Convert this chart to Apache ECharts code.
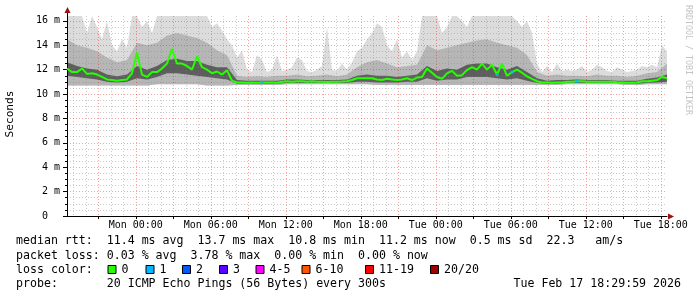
<!DOCTYPE html>
<html><head><meta charset="utf-8">
<script src="https://cdn.jsdelivr.net/npm/echarts@6/dist/echarts.min.js"></script>
<style>html,body{margin:0;padding:0;background:#fff}#c{width:697px;height:297px}</style>
</head><body><div id="c"></div>
<script>
// ---- time base (hours after Sun 18:00) ----
const T0 = 0.5;
const STEP_FINE = 0.4;
const STEP_COARSE = 0.8;

// ---- median rtt (ms), one value per STEP_FINE ----
const medianRtt = [
 12.1, 11.8, 11.8, 12.1, 11.65, 11.7, 11.6, 11.4, 11.2, 11.15,
 11.1, 11.15, 11.2, 11.7, 13.4, 11.6, 11.4, 11.8, 11.8, 12.1,
 12.5, 13.7, 12.5, 12.5, 12.3, 12.0, 13.1, 12.2, 12.0, 11.7,
 11.85, 11.6, 11.95, 11.1, 10.95, 10.95, 10.92, 10.95, 10.92, 10.95,
 10.95, 10.95, 10.93, 11.0, 11.05, 11.0, 11.05, 11.05, 11.0, 11.05,
 11.0, 11.0, 10.98, 11.0, 11.0, 11.02, 11.05, 11.15, 11.3, 11.3,
 11.3, 11.3, 11.2, 11.15, 11.25, 11.2, 11.15, 11.2, 11.3, 11.15,
 11.35, 11.4, 12.1, 11.75, 11.4, 11.25, 11.7, 11.9, 11.5, 11.55,
 11.97, 12.2, 12.0, 12.5, 12.0, 12.4, 11.6, 12.5, 11.5, 11.8,
 12.0, 11.75, 11.45, 11.25, 11.05, 10.95, 10.95, 10.93, 10.95, 10.95,
 11.0, 11.0, 11.05, 11.05, 11.0, 11.0, 11.0, 11.0, 11.0, 11.0,
 10.97, 10.95, 10.93, 10.93, 10.95, 11.05, 11.05, 11.1, 11.15, 11.4,
 11.3
];
// ---- max rtt (top of smoke), one value per STEP_FINE ----
const maxRtt = [
 16.4, 16.4, 16.4, 16.4, 15.0, 16.4, 15.5, 14.5, 16.0, 14.0,
 13.5, 14.5, 13.8, 16.4, 16.4, 15.5, 16.0, 15.0, 16.4, 16.4,
 16.4, 16.4, 16.4, 16.4, 16.4, 16.4, 16.4, 16.4, 16.4, 15.5,
 15.8, 15.2, 14.5, 14.0, 13.0, 13.6, 12.0, 11.8, 13.2, 12.8,
 11.8, 12.0, 13.2, 11.9, 12.0, 12.2, 13.0, 12.8, 11.9, 11.8,
 12.0, 12.3, 15.5, 12.0, 11.9, 12.5, 12.0, 12.6, 13.5, 13.8,
 14.5, 15.0, 15.8, 15.5, 14.0, 13.5, 14.5, 13.0, 13.5, 12.8,
 13.5, 16.4, 16.4, 16.4, 16.4, 15.0, 15.5, 16.4, 16.4, 16.0,
 15.5, 16.4, 16.4, 16.4, 16.4, 16.4, 16.4, 16.4, 16.4, 16.4,
 16.0, 15.5, 16.0, 15.0, 12.5, 11.8, 12.3, 11.8, 12.5, 11.9,
 12.0, 11.9, 12.0, 12.3, 11.8, 12.0, 12.4, 12.2, 11.9, 11.8,
 12.2, 12.0, 11.8, 11.9, 12.0, 12.3, 12.2, 12.4, 12.2, 14.0,
 13.5
];
// ---- loss count (of 20) per STEP_FINE sample ----
const lossCount = [
 0,0,0,0,0,0,0,0,0,0, 0,0,0,0,0,0,0,0,0,0,
 0,0,0,0,0,0,0,0,0,0, 0,0,0,0,0,0,0,0,0,1,
 0,0,0,0,0,0,0,0,0,0, 0,0,0,0,0,0,0,0,0,0,
 0,0,0,0,0,0,0,0,0,0, 0,0,0,0,0,0,0,0,0,0,
 0,0,0,0,0,0,1,0,0,1, 0,0,0,0,0,0,0,0,0,0,
 0,0,1,0,0,0,0,0,0,0, 0,0,0,0,0,0,0,0,0,0,
 0
];
// ---- smoke percentiles, one value per STEP_COARSE ----
const minRtt = [
 10.7, 10.7, 10.7, 10.7, 10.7, 10.7, 10.7, 10.7, 10.7, 10.8,
 10.8, 10.8, 10.8, 10.8, 10.7, 10.7, 10.7, 10.75, 10.75, 10.75,
 10.75, 10.75, 10.8, 10.8, 10.8, 10.8, 10.8, 10.8, 10.8, 10.8,
 10.8, 10.75, 10.75, 10.75, 10.75, 10.75, 10.75, 10.75, 10.75, 10.75,
 10.75, 10.75, 10.75, 10.75, 10.75, 10.75, 10.75, 10.75, 10.75, 10.75,
 10.8, 10.8, 10.8, 10.8, 10.8, 10.8, 10.75, 10.75, 10.8, 10.8,
 10.8
];
const p25Rtt = [
 11.5, 11.4, 11.3, 11.2, 11.0, 10.95, 11.0, 11.3, 11.2, 11.4,
 11.7, 11.7, 11.6, 11.5, 11.4, 11.3, 11.2, 10.85, 10.85, 10.85,
 10.85, 10.85, 10.9, 10.9, 10.9, 10.9, 10.9, 10.9, 10.9, 11.0,
 11.0, 10.95, 10.95, 10.95, 11.0, 11.0, 11.3, 11.1, 11.2, 11.2,
 11.4, 11.4, 11.4, 11.3, 11.2, 11.3, 11.1, 10.9, 10.85, 10.85,
 10.9, 10.9, 10.9, 10.9, 10.9, 10.9, 10.85, 10.85, 10.9, 10.95,
 11.0
];
const p75Rtt = [
 12.6, 12.3, 12.1, 12.0, 11.6, 11.45, 11.6, 12.3, 12.0, 12.3,
 12.8, 12.9, 12.7, 12.7, 12.4, 12.2, 12.2, 11.15, 11.1, 11.1,
 11.1, 11.1, 11.2, 11.2, 11.15, 11.15, 11.15, 11.15, 11.2, 11.5,
 11.6, 11.5, 11.5, 11.4, 11.5, 11.6, 12.3, 11.9, 12.1, 12.0,
 12.4, 12.5, 12.5, 12.2, 12.0, 12.3, 11.8, 11.3, 11.1, 11.15,
 11.15, 11.2, 11.15, 11.15, 11.15, 11.1, 11.1, 11.1, 11.25, 11.35,
 11.6
];
const p90Rtt = [
 14.5, 14.0, 13.8, 13.5, 13.0, 12.6, 12.8, 14.2, 14.0, 14.2,
 14.8, 15.0, 14.8, 14.6, 14.2, 13.6, 13.2, 11.5, 11.4, 11.45,
 11.4, 11.5, 11.5, 11.6, 11.45, 11.5, 11.6, 11.45, 11.6, 12.2,
 12.6, 12.8, 12.5, 12.2, 12.3, 12.4, 14.0, 13.6, 13.8, 14.0,
 14.2, 14.4, 14.5, 14.2, 14.0, 13.8, 13.2, 11.8, 11.5, 11.6,
 11.5, 11.5, 11.45, 11.6, 11.5, 11.5, 11.4, 11.5, 11.7, 11.8,
 12.5
];

// ---- axes ticks / labels ----
const xLabelHours = [6, 12, 18, 24, 30, 36, 42, 48];
const xLabelText = ['Mon 00:00','Mon 06:00','Mon 12:00','Mon 18:00','Tue 00:00','Tue 06:00','Tue 12:00','Tue 18:00'];
const xMajorHours = [3, 6, 9, 12, 15, 18, 21, 24, 27, 30, 33, 36, 39, 42, 45, 48];
const xMinorHours = [1,2,4,5,7,8,10,11,13,14,16,17,19,20,22,23,25,26,28,29,31,32,34,35,37,38,40,41,43,44,46,47];
const yMajor = [0, 2, 4, 6, 8, 10, 12, 14, 16];
const yMinor = [0.5,1,1.5,2.5,3,3.5,4.5,5,5.5,6.5,7,7.5,8.5,9,9.5,10.5,11,11.5,12.5,13,13.5,14.5,15,15.5];

// ---- legend text ----
const legendLines = [
 'median rtt:  11.4 ms avg  13.7 ms max  10.8 ms min  11.2 ms now  0.5 ms sd  22.3   am/s',
 'packet loss: 0.03 % avg  3.78 % max  0.00 % min  0.00 % now',
 'loss color:',
 'probe:       20 ICMP Echo Pings (56 Bytes) every 300s'
];
const stampText = 'Tue Feb 17 18:29:59 2026';
const lossLabels = ['0','1','2','3','4-5','6-10','11-19','20/20'];
const lossColors = ['#26ff00','#00b8ff','#0059ff','#5e00ff','#ff00ff','#ff5500','#ff0000','#a10000'];
const swatchLeft = [107.5, 145.5, 182, 219, 255.5, 301.5, 365, 430];

const MONO = 'DejaVu Sans Mono';
const xFine = medianRtt.map((_, i) => T0 + i * STEP_FINE);
const xCoarse = minRtt.map((_, i) => T0 + i * STEP_COARSE);

function band(ux, uy, lx, ly, color) {
  return {
    type: 'custom', z: 1, silent: true, xAxisIndex: 0, yAxisIndex: 0,
    data: [[ux[0], uy[0]]],
    renderItem: (params, api) => {
      const pts = [];
      for (let i = 0; i < uy.length; i++) pts.push(api.coord([ux[i], uy[i]]));
      for (let i = ly.length - 1; i >= 0; i--) pts.push(api.coord([lx[i], ly[i]]));
      return { type: 'polygon', shape: { points: pts }, style: { fill: color } };
    }
  };
}

const graphics = [];
graphics.push({ type:'text', x:10, y:114, rotation: Math.PI/2,
  style:{ text:'Seconds', font:'11.2px ' + MONO, fill:'#000', align:'center', verticalAlign:'middle', textAlign:'center', textVerticalAlign:'middle' } });
graphics.push({ type:'text', x:688, y:60, rotation: -Math.PI/2,
  style:{ text:'RRDTOOL / TOBI OETIKER', font:'8.3px ' + MONO, fill:'#c4c4c4', align:'center', verticalAlign:'middle', textAlign:'center', textVerticalAlign:'middle' } });
const lineY = [241, 255.5, 269.5, 283.5];
legendLines.forEach((t, k) => graphics.push({ type:'text', x:16, y:lineY[k],
  style:{ text:t, font:'11.6px ' + MONO, fill:'#000', verticalAlign:'middle', textVerticalAlign:'middle' } }));
graphics.push({ type:'text', x:681, y:lineY[3],
  style:{ text:stampText, font:'11.6px ' + MONO, fill:'#000', align:'right', textAlign:'right', verticalAlign:'middle', textVerticalAlign:'middle' } });
lossLabels.forEach((lab, k) => {
  graphics.push({ type:'rect', shape:{ x: swatchLeft[k] + 0.5, y: 265.5, width: 8, height: 8 },
    style:{ fill: lossColors[k], stroke:'#000', lineWidth:1 } });
  graphics.push({ type:'text', x: swatchLeft[k] + 14, y: lineY[2],
    style:{ text: lab, font:'11.6px ' + MONO, fill:'#000', verticalAlign:'middle', textVerticalAlign:'middle' } });
});
// axis arrows
graphics.push({ type:'line', shape:{ x1:67.5, y1:12, x2:67.5, y2:16 }, style:{ stroke:'#000', lineWidth:1 } });
graphics.push({ type:'polygon', shape:{ points:[[67.5,7],[64.5,13],[70.5,13]] }, style:{ fill:'#9e1010' } });
graphics.push({ type:'polygon', shape:{ points:[[674,216.5],[668,213.5],[668,219.5]] }, style:{ fill:'#9e1010' } });

const gridRed = { color:'rgba(230,0,0,0.36)', type:[1,2], width:1 };
const gridGray = { color:'rgba(130,130,130,0.42)', type:[1,2], width:1 };

const option = {
  animation: false,
  backgroundColor: '#fff',
  textStyle: { fontFamily: MONO },
  grid: { left: 67, top: 16, width: 600, height: 200, containLabel: false, outerBoundsMode: 'none' },
  xAxis: [
    { type:'value', min:0.5, max:48.5, position:'bottom', z:3,
      axisLine:{ show:true, onZero:false, lineStyle:{ color:'#000', width:1 } },
      axisTick:{ show:true, customValues:xMajorHours, length:3, lineStyle:{ color:'#000' } },
      axisLabel:{ show:true, customValues:xLabelHours, margin:4, fontSize:10, color:'#000', fontFamily:MONO,
        formatter: v => xLabelText[xLabelHours.indexOf(v)] || '' },
      splitLine:{ show:true, lineStyle: gridRed } },
    { type:'value', min:0.5, max:48.5, position:'bottom', z:3,
      axisLine:{ show:false }, axisTick:{ show:false, customValues:xMinorHours }, axisLabel:{ show:false },
      splitLine:{ show:true, lineStyle: gridGray } }
  ],
  yAxis: [
    { type:'value', min:0, max:16.4, position:'left', z:3,
      axisLine:{ show:true, onZero:false, lineStyle:{ color:'#000', width:1 } },
      axisTick:{ show:true, customValues:yMajor, length:4, lineStyle:{ color:'#000' } },
      axisLabel:{ show:true, customValues:yMajor, margin:7, fontSize:10, color:'#000', fontFamily:MONO,
        formatter: v => v === 0 ? '0  ' : v + ' m' },
      splitLine:{ show:true, lineStyle: gridRed } },
    { type:'value', min:0, max:16.4, position:'left', z:3,
      axisLine:{ show:false }, axisTick:{ show:true, customValues:yMinor, length:2, lineStyle:{ color:'#000' } },
      axisLabel:{ show:false }, splitLine:{ show:true, lineStyle: gridGray } }
  ],
  series: [
    band(xFine, maxRtt, xCoarse, minRtt, '#dcdcdc'),
    band(xCoarse, p90Rtt, xCoarse, minRtt, '#b6b6b6'),
    band(xCoarse, p75Rtt, xCoarse, p25Rtt, '#5e5e5e'),
    { type:'line', z:5, silent:true, symbol:'none', xAxisIndex:0, yAxisIndex:0,
      data: medianRtt.map((v, i) => [xFine[i], v]),
      lineStyle:{ color: lossColors[0], width: 2 } },
    { type:'scatter', z:6, silent:true, symbol:'rect', symbolSize:3, xAxisIndex:0, yAxisIndex:0,
      data: medianRtt.map((v, i) => [xFine[i], v, lossCount[i]]).filter(d => d[2] > 0),
      itemStyle:{ color: p => lossColors[p.data[2]] } }
  ],
  graphic: graphics
};
const chart = echarts.init(document.getElementById('c'), null, { renderer: 'canvas' });
chart.setOption(option);
</script>
</body></html>
